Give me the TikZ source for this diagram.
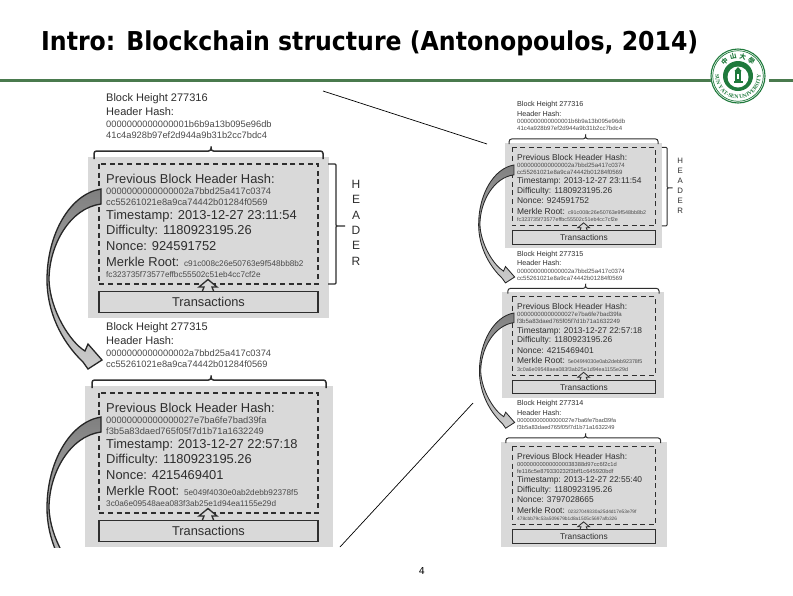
\documentclass[tikz,border=0pt]{standalone}
\usepackage{fontspec}
\setmainfont{Liberation Sans}
\newfontfamily\titlefont{DejaVu Sans}
\newfontfamily\cjkfont{Noto Sans CJK TC}
\newfontfamily\logofont{Liberation Serif}
\usetikzlibrary{decorations.text}
\definecolor{barGreen}{HTML}{4A7A4E}
\definecolor{sealGreen}{HTML}{1F7A3C}
\definecolor{blockGrey}{HTML}{D9D9D9}
\definecolor{inkDark}{HTML}{2E2E2E}
\definecolor{inkHash}{HTML}{4A4A4A}
\newcommand\fsz[1]{\fontsize{#1}{#1}\selectfont}
\tikzset{
  x=1pt,y=-1pt,
  big/.style={anchor=west,inner sep=0,text=inkDark,font=\fsz{12.9},transform shape},
  mid/.style={anchor=west,inner sep=0,text=inkDark,font=\fsz{11},transform shape},
  small/.style={anchor=west,inner sep=0,text=inkHash,font=\fsz{\hsz},transform shape},
  tiny/.style={anchor=west,inner sep=0,text=inkHash,font=\fsz{\msz},transform shape},
  letter/.style={inner sep=0,text=inkDark,font=\fsz{12},transform shape},
}
\newcommand\blk[8]{%
\begin{scope}[shift={(#2,#3)},scale=#4]
  \fill[blockGrey] (#5,58) rectangle (#6,219);
  \draw[inkDark,line width=#4*1.5pt,rounded corners=2.5pt] (#7,60) -- (#7,52) -- (105,52) -- (105,46) -- (105,52) -- (#8,52) -- (#8,60);
  \draw[inkDark,line width=#4*1.5pt,dash pattern=on 5pt off 3.6pt] (-7,65) rectangle (212,185);
  \node[mid] (#1h) at (0,0) {Block Height \bH};
  \node[mid] (#1a) at (0,13) {Header Hash:};
  \node[small] (#1b) at (0,25.5) {\hA};
  \node[small] (#1c) at (0,36) {\hB};
  \node[big] (#1p) at (0,80) {Previous Block Header Hash:};
  \node[small] (#1d) at (0,92) {\pA};
  \node[small] (#1e) at (0,103) {\pB};
  \node[big] (#1t) at (0,117) {Timestamp: \tS};
  \node[big] (#1f) at (0,132) {Difficulty: 1180923195.26};
  \node[big] (#1n) at (0,147) {Nonce: \nC};
  \node[big] (#1m) at (0,163) {Merkle Root: {\color{inkHash}\fsz{\msz}\mA}};
  \node[tiny] (#1r) at (0,176) {\mB};
  \filldraw[draw=inkDark,fill=blockGrey,line width=#4*1.3pt,line join=miter] (96,193) -- (98,188) -- (93,188) -- (102,180.5) -- (111,188) -- (106,188) -- (108,193) -- cycle;
  \node[draw=inkDark,line width=#4*1.5pt,fill=blockGrey,minimum width=219pt,minimum height=21pt,inner sep=0,font=\fsz{12.8},text=inkDark,transform shape] (#1x) at (102.5,203) {Transactions};
\end{scope}}
\newcommand\hdr[4]{%
\begin{scope}[shift={(#2,#3)},scale=#4]
  \draw[inkDark,line width=#4*1.4pt,rounded corners=1pt] (222,65) -- (230,65) -- (230,127) -- (240,127) -- (230,127) -- (230,185) -- (222,185);
  \node[letter] (#1A) at (250,85) {H};
  \node[letter] (#1B) at (250,100.5) {E};
  \node[letter] (#1C) at (250,116) {A};
  \node[letter] (#1D) at (250,131) {D};
  \node[letter] (#1E) at (250,146.5) {E};
  \node[letter] (#1F) at (250,162) {R};
\end{scope}}
\newcommand\flatarrow[3]{%
\begin{scope}[shift={(#1,#2)},scale=#3]
  \path[draw=black!85,line width=#3*1.3pt,line join=miter,top color=black!50,bottom color=black!20]
   (0,0) .. controls (-31,5) and (-54,45) .. (-54,91)
   .. controls (-54,121) and (-41,151) .. (-18,173) -- (-13,180) -- (1,171) -- (-13,155) -- (-16,162)
   .. controls (-31,153) and (-51,121) .. (-52,91)
   .. controls (-52,56) and (-31,19) .. (0,15) -- cycle;
\end{scope}}
\begin{document}
\begin{tikzpicture}
\useasboundingbox (0,0) rectangle (793,595);
\fill[white] (0,0) rectangle (793,595);
% title and bar
\node[anchor=base west,inner sep=0] (title) at (41,50) {\resizebox{657pt}{\height}{\titlefont\bfseries\fsz{26}Intro: Blockchain structure (Antonopoulos, 2014)}};
\fill[barGreen] (0,79) rectangle (711,82.2);
\fill[barGreen] (769,79) rectangle (793,82.2);
% left column
\def\hsz{9.3}\def\msz{8.2}
\def\bH{277316}\def\hA{0000000000000001b6b9a13b095e96db}\def\hB{41c4a928b97ef2d944a9b31b2cc7bdc4}
\def\pA{0000000000000002a7bbd25a417c0374}\def\pB{cc55261021e8a9ca74442b01284f0569}
\def\tS{2013-12-27 23:11:54}\def\nC{924591752}
\def\mA{c91c008c26e50763e9f548bb8b2}\def\mB{fc323735f73577effbc55502c51eb4cc7cf2e}
\blk{La}{106}{99}{1}{-18}{223}{-12}{217}
\hdr{Lh}{106}{99}{1}
\flatarrow{101}{189}{1}
\begin{scope}
\clip (0,300) rectangle (793,547);
\def\bH{277315}\def\hA{0000000000000002a7bbd25a417c0374}\def\hB{cc55261021e8a9ca74442b01284f0569}
\def\pA{00000000000000027e7ba6fe7bad39fa}\def\pB{f3b5a83daed765f05f7d1b71a1632249}
\def\tS{2013-12-27 22:57:18}\def\nC{4215469401}
\def\mA{5e049f4030e0ab2debb92378f5}\def\mB{3c0a6e09548aea083f3ab25e1d94ea1155e29d}
\blk{Lb}{106}{328}{1}{-21}{227}{-14}{220}
\flatarrow{101}{417}{1}
\end{scope}
% right column
\def\bH{277316}\def\hA{0000000000000001b6b9a13b095e96db}\def\hB{41c4a928b97ef2d944a9b31b2cc7bdc4}
\def\pA{0000000000000002a7bbd25a417c0374}\def\pB{cc55261021e8a9ca74442b01284f0569}
\def\tS{2013-12-27 23:11:54}\def\nC{924591752}
\def\mA{c91c008c26e50763e9f548bb8b2}\def\mB{fc323735f73577effbc55502c51eb4cc7cf2e}
\blk{Ra}{517}{105}{.653}{-18.4}{222}{-12}{216}
\hdr{Rh}{517}{105}{.653}
\def\bH{277315}\def\hA{0000000000000002a7bbd25a417c0374}\def\hB{cc55261021e8a9ca74442b01284f0569}
\def\pA{00000000000000027e7ba6fe7bad39fa}\def\pB{f3b5a83daed765f05f7d1b71a1632249}
\def\tS{2013-12-27 22:57:18}\def\nC{4215469401}
\def\mA{5e049f4030e0ab2debb92378f5}\def\mB{3c0a6e09548aea083f3ab25e1d94ea1155e29d}
\blk{Rb}{517}{254.5}{.653}{-23}{225}{-14}{217.5}
\def\hsz{8.8}\def\msz{7.4}
\def\bH{277314}\def\hA{00000000000000027e7ba6fe7bad39fa}\def\hB{f3b5a83daed765f05f7d1b71a1632249}
\def\pA{000000000000000038388d97cc6f2c1d}\def\pB{fe116c5e879330232f3bff1c645920bdf}
\def\tS{2013-12-27 22:55:40}\def\nC{3797028665}
\def\mA{02327049330a25d4d17e53e79f}\def\mB{478cbb79c53a509679b1d8a1505c5697afb326}
\blk{Rc}{517}{404}{.653}{-24.5}{230}{-17}{220}
\flatarrow{514}{165}{.655}
\flatarrow{514}{313}{.64}
% connectors between slide images
\coordinate (c1) at (323,91);
\coordinate (c2) at (487,144);
\coordinate (c3) at (340,547);
\coordinate (c4) at (473,403);
\draw[black,line width=.7pt] (c1) -- (c2);
\draw[black,line width=.7pt] (c3) -- (c4);
% seal
\begin{scope}[shift={(738,76)},y=1pt]
  \fill[white] (0,0) circle (27.5);
  \draw[sealGreen,line width=1.1pt] (0,0) circle (27);
  \draw[sealGreen,line width=.7pt] (0,0) circle (25.3);
  \path[decorate,decoration={text along path,text align=center,
     text={|\logofont\bfseries\fsz{5.6}\color{sealGreen}|SUN YAT-SEN UNIVERSITY}}]
     (180:22.7) arc[start angle=180,end angle=360,radius=22.7];
  \node[inner sep=0,rotate=42,font=\cjkfont\bfseries\fsz{6.5},text=sealGreen] (s1) at (132:20) {中};
  \node[inner sep=0,rotate=14,font=\cjkfont\bfseries\fsz{6.5},text=sealGreen] (s2) at (104:20) {山};
  \node[inner sep=0,rotate=-14,font=\cjkfont\bfseries\fsz{6.5},text=sealGreen] (s3) at (76:20) {大};
  \node[inner sep=0,rotate=-42,font=\cjkfont\bfseries\fsz{6.5},text=sealGreen] (s4) at (48:20) {學};
  \fill[sealGreen] (0,0) circle (15);
  \fill[white] (0,-1) circle (10.5);
  \fill[sealGreen] (-4.5,-7) rectangle (4.5,-5);
  \fill[sealGreen] (-3,-5) rectangle (3,5);
  \fill[white] (-1,-3) rectangle (1,2);
  \fill[sealGreen] (0,9) -- (-3.5,5) -- (3.5,5) -- cycle;
\end{scope}
\node[inner sep=0,font=\titlefont\fsz{9.5},text=black] (page) at (422,571) {4};
\end{tikzpicture}
\end{document}
